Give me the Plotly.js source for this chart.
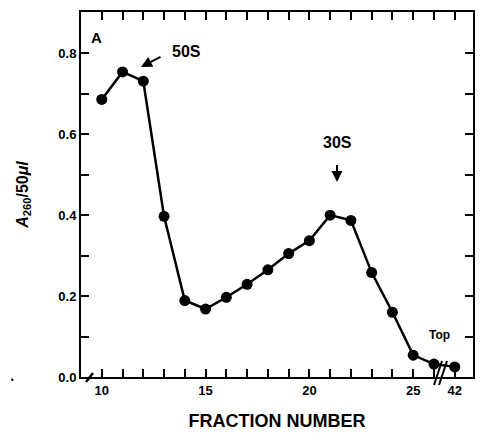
<!DOCTYPE html>
<html>
<head>
<meta charset="utf-8">
<script src="https://cdn.plot.ly/plotly-3.0.1.min.js"></script>
<style>
  html, body { margin: 0; padding: 0; background: #fff; }
  #chart { width: 480px; height: 433px; }
</style>
</head>
<body>
<div id="chart"></div>
<script>
// Fraction numbers (the axis is broken between 26 and 42)
var fractions = ["10","11","12","13","14","15","16","17","18","19","20","21","22","23","24","25","26","42"];
// A260 / 50 µl
var absorbance = [0.686, 0.754, 0.731, 0.397, 0.189, 0.168, 0.197, 0.229, 0.265, 0.305, 0.337, 0.400, 0.387, 0.258, 0.160, 0.054, 0.032, 0.025];
// labelled x ticks
var xLabelled = ["10", "15", "20", "25", "42"];
// y ticks
var yTickVals = [0, 0.1, 0.2, 0.3, 0.4, 0.5, 0.6, 0.7, 0.8];
var yTickText = ["0.0", "", "0.2", "", "0.4", "", "0.6", "", "0.8"];

var W = 480, H = 433, L = 81, R = 7, T = 12, B = 56;
function px(x) { return (x - L) / (W - L - R); }
function py(y) { return (H - B - y) / (H - T - B); }

var FONT = "Liberation Sans, Arial, sans-serif";

var trace = {
  type: "scatter",
  mode: "lines+markers",
  x: fractions,
  y: absorbance,
  line: { color: "#000", width: 2.5 },
  marker: { color: "#000", size: 11 }
};

var layout = {
  width: W, height: H,
  margin: { l: L, r: R, t: T, b: B },
  paper_bgcolor: "#fff",
  plot_bgcolor: "rgba(0,0,0,0)",
  showlegend: false,
  font: { family: FONT, color: "#000", size: 13 },
  xaxis: {
    type: "category",
    range: [-1, 17.88],
    tickmode: "array",
    tickvals: fractions,
    ticktext: fractions.map(function (f) { return xLabelled.indexOf(f) >= 0 ? f : ""; }),
    ticks: "inside",
    ticklen: 8,
    tickwidth: 2,
    tickcolor: "#000",
    tickfont: { family: FONT, size: 13, weight: "bold", color: "#000" },
    showline: true,
    linecolor: "#000",
    linewidth: 2,
    mirror: "ticks",
    showgrid: false,
    zeroline: false,
    title: { text: "FRACTION NUMBER", font: { family: FONT, size: 18, weight: "bold", color: "#000" }, standoff: 18 }
  },
  yaxis: {
    range: [0, 0.902],
    tickmode: "array",
    tickvals: yTickVals,
    ticktext: yTickText,
    ticks: "inside",
    ticklen: 8,
    tickwidth: 2,
    tickcolor: "#000",
    tickfont: { family: FONT, size: 13, weight: "bold", color: "#000" },
    showline: true,
    linecolor: "#000",
    linewidth: 2,
    mirror: "ticks",
    showgrid: false,
    zeroline: false,
    title: { text: "<i>A</i><sub>260</sub>/50<i>μl</i>", font: { family: FONT, size: 16, weight: "bold", color: "#000" }, standoff: 26 }
  },
  annotations: [
    { xref: "paper", yref: "paper", x: px(96), y: py(37), text: "A", showarrow: false,
      font: { family: FONT, size: 15, weight: "bold", color: "#000" }, xanchor: "center", yanchor: "middle" },
    { xref: "paper", yref: "paper", x: px(186), y: py(51), text: "50S", showarrow: false,
      font: { family: FONT, size: 16, weight: "bold", color: "#000" }, xanchor: "center", yanchor: "middle" },
    { xref: "paper", yref: "paper", x: px(141), y: py(67), text: " ", showarrow: true,
      axref: "pixel", ayref: "pixel", ax: 23, ay: -12, arrowhead: 2, arrowsize: 1.1, arrowwidth: 2, arrowcolor: "#000", standoff: 0 },
    { xref: "paper", yref: "paper", x: px(337), y: py(142), text: "30S", showarrow: false,
      font: { family: FONT, size: 16, weight: "bold", color: "#000" }, xanchor: "center", yanchor: "middle" },
    { xref: "paper", yref: "paper", x: px(337), y: py(182), text: " ", showarrow: true,
      axref: "pixel", ayref: "pixel", ax: 0, ay: -26, arrowhead: 2, arrowsize: 1.1, arrowwidth: 2, arrowcolor: "#000", standoff: 0 },
    { xref: "paper", yref: "paper", x: px(439), y: py(335), text: "Top", showarrow: false,
      font: { family: FONT, size: 12, weight: "bold", color: "#000" }, xanchor: "center", yanchor: "middle" }
  ],
  shapes: [
    // axis-break slashes near the end of the x axis
    { type: "line", xref: "paper", yref: "paper", x0: px(434), y0: py(385), x1: px(442), y1: py(361), line: { color: "#000", width: 2 } },
    { type: "line", xref: "paper", yref: "paper", x0: px(439), y0: py(385), x1: px(447), y1: py(361), line: { color: "#000", width: 2 } },
    // small break mark at the origin
    { type: "line", xref: "paper", yref: "paper", x0: px(86), y0: py(382), x1: px(93), y1: py(373), line: { color: "#000", width: 2.5 } },
    // stray dot
    { type: "circle", xref: "paper", yref: "paper", x0: px(11), y0: py(381), x1: px(13.5), y1: py(378.5), fillcolor: "#000", line: { width: 0 } }
  ]
};

Plotly.newPlot("chart", [trace], layout, { displayModeBar: false });
</script>
</body>
</html>
